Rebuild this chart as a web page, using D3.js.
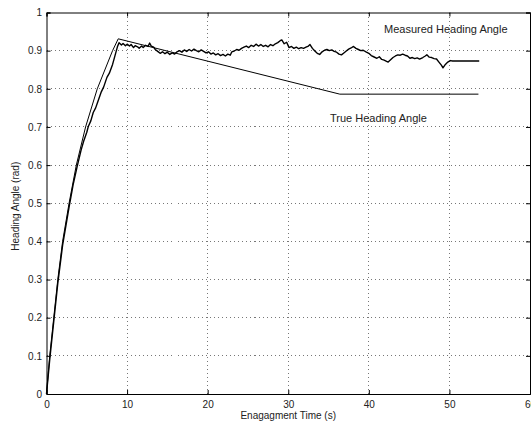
<!DOCTYPE html>
<html>
<head>
<meta charset="utf-8">
<script src="https://cdn.jsdelivr.net/npm/d3@7"></script>
<style>
  body { margin: 0; background: #fff; }
  svg { display: block; font-family: "Liberation Sans", Arial, sans-serif; }
</style>
</head>
<body>
<div id="viz"></div>
<script>
// tick labels
const xTicks = [0, 10, 20, 30, 40, 50, 60];
const yTicks = [0, 0.1, 0.2, 0.3, 0.4, 0.5, 0.6, 0.7, 0.8, 0.9, 1];

// true heading angle (time s, rad)
const trueHeading = [
    [0, 0], [0.4, 0.1], [0.9, 0.2], [1.4, 0.3], [2.0, 0.4], [2.8, 0.5],
    [3.7, 0.6], [4.85, 0.7], [6.3, 0.8], [8.2, 0.9], [8.9, 0.931],
    [36.4, 0.786], [53.6, 0.786]
];

// measured heading angle (time s, rad)
const measuredHeading = [
    [0, 0], [0.4, 0.09], [0.9, 0.19], [1.4, 0.29], [2.0, 0.39], [2.8, 0.49],
    [3.3, 0.548], [3.8, 0.596], [4.3, 0.64], [4.6, 0.662], [5.0, 0.686], [5.2, 0.702],
    [5.5, 0.716], [5.8, 0.738], [6.1, 0.75], [6.4, 0.768], [6.8, 0.792], [7.1, 0.805],
    [7.5, 0.83], [7.8, 0.841], [8.2, 0.864], [8.5, 0.887], [8.8, 0.91], [9.0, 0.921],
    [9.3, 0.915], [9.5, 0.919], [9.8, 0.913], [10.0, 0.917], [10.3, 0.912], [10.5, 0.916],
    [10.8, 0.908], [11.0, 0.913], [11.3, 0.910], [11.5, 0.906], [11.8, 0.912], [12.0, 0.908],
    [12.3, 0.914], [12.6, 0.911], [12.8, 0.920], [13.0, 0.912], [13.3, 0.909], [13.5, 0.903],
    [13.8, 0.898], [14.1, 0.893], [14.4, 0.897], [14.7, 0.892], [15.0, 0.896], [15.3, 0.890],
    [15.6, 0.894], [15.9, 0.891], [16.2, 0.897], [16.5, 0.900], [16.8, 0.896], [17.1, 0.902],
    [17.4, 0.898], [17.7, 0.903], [18.0, 0.899], [18.3, 0.904], [18.6, 0.900], [18.9, 0.897],
    [19.2, 0.902], [19.5, 0.898], [19.8, 0.894], [20.1, 0.897], [20.4, 0.891], [20.7, 0.894],
    [21.0, 0.889], [21.3, 0.892], [21.6, 0.887], [21.9, 0.890], [22.2, 0.886], [22.5, 0.891],
    [22.8, 0.888], [23.0, 0.897], [23.3, 0.899], [23.6, 0.903], [23.9, 0.901], [24.2, 0.906],
    [24.5, 0.909], [24.8, 0.912], [25.1, 0.908], [25.4, 0.914], [25.7, 0.911], [26.0, 0.917],
    [26.3, 0.912], [26.6, 0.916], [26.9, 0.911], [27.2, 0.914], [27.5, 0.910], [27.8, 0.916],
    [28.1, 0.913], [28.4, 0.918], [28.7, 0.921], [29.0, 0.926], [29.2, 0.928], [29.5, 0.918],
    [29.8, 0.922], [30.1, 0.908], [30.4, 0.911], [30.7, 0.906], [31.0, 0.909], [31.3, 0.905],
    [31.6, 0.908], [31.9, 0.906], [32.2, 0.909], [32.5, 0.912], [32.7, 0.916], [33.0, 0.906],
    [33.3, 0.899], [33.6, 0.893], [33.9, 0.890], [34.2, 0.897], [34.5, 0.901], [34.8, 0.903],
    [35.1, 0.900], [35.4, 0.902], [35.7, 0.898], [36.0, 0.896], [36.3, 0.891], [36.6, 0.889],
    [36.9, 0.894], [37.2, 0.899], [37.5, 0.904], [37.8, 0.907], [38.1, 0.911], [38.4, 0.906],
    [38.7, 0.903], [39.0, 0.900], [39.3, 0.901], [39.7, 0.896], [40.0, 0.893], [40.3, 0.887],
    [40.6, 0.884], [41.0, 0.880], [41.3, 0.884], [41.6, 0.877], [41.9, 0.875], [42.2, 0.872],
    [42.4, 0.870], [42.7, 0.876], [43.0, 0.882], [43.3, 0.886], [43.6, 0.889], [43.9, 0.888],
    [44.2, 0.891], [44.5, 0.888], [44.8, 0.886], [45.1, 0.880], [45.4, 0.882], [45.7, 0.879],
    [46.0, 0.881], [46.3, 0.878], [46.7, 0.882], [47.0, 0.886], [47.2, 0.889], [47.5, 0.883],
    [47.8, 0.882], [48.1, 0.879], [48.4, 0.878], [48.7, 0.870], [49.0, 0.862], [49.2, 0.855],
    [49.5, 0.864], [49.8, 0.870], [50.1, 0.874], [50.4, 0.873], [53.7, 0.873]
];

const width = 531;
const height = 426;
const margin = { top: 12.5, right: 1, bottom: 32, left: 46.5 };

const svg = d3.select("#viz").append("svg")
    .attr("width", width)
    .attr("height", height);

const x = d3.scaleLinear().domain([0, 60]).range([margin.left, width - margin.right]);
const y = d3.scaleLinear().domain([0, 1]).range([height - margin.bottom, margin.top]);

const fmt = d3.format("~g");

// dotted grid, interior ticks only
const grid = svg.append("g")
    .attr("stroke", "#777")
    .attr("stroke-width", 1)
    .attr("stroke-dasharray", "1,3")
    .attr("shape-rendering", "crispEdges");

grid.selectAll(".gx")
    .data(xTicks.slice(1, -1))
    .enter().append("line")
    .attr("x1", d => x(d)).attr("x2", d => x(d))
    .attr("y1", y(1)).attr("y2", y(0));

grid.selectAll(".gy")
    .data(yTicks.slice(1, -1))
    .enter().append("line")
    .attr("x1", x(0)).attr("x2", x(60))
    .attr("y1", d => y(d)).attr("y2", d => y(d));

// axes box, ticks point inward
const axBottom = svg.append("g")
    .attr("transform", `translate(0,${y(0)})`)
    .call(d3.axisBottom(x).tickValues(xTicks).tickFormat(fmt).tickSize(-4).tickPadding(7));
const axTop = svg.append("g")
    .attr("transform", `translate(0,${y(1)})`)
    .call(d3.axisTop(x).tickValues(xTicks).tickFormat("").tickSize(-4));
const axLeft = svg.append("g")
    .attr("transform", `translate(${x(0)},0)`)
    .call(d3.axisLeft(y).tickValues(yTicks).tickFormat(fmt).tickSize(-4).tickPadding(4.5));
const axRight = svg.append("g")
    .attr("transform", `translate(${x(60)},0)`)
    .call(d3.axisRight(y).tickValues(yTicks).tickFormat("").tickSize(-4));

[axBottom, axTop, axLeft, axRight].forEach(g => {
    g.selectAll(".domain").attr("stroke", "#000").attr("stroke-width", 1);
    g.selectAll(".tick line").attr("stroke", "#000");
    g.selectAll("text")
        .attr("font-family", "Liberation Sans, Arial, sans-serif")
        .attr("font-size", "10px")
        .attr("fill", "#222");
});

const line = d3.line()
    .x(d => x(d[0]))
    .y(d => y(d[1]));

svg.append("path")
    .datum(trueHeading)
    .attr("fill", "none")
    .attr("stroke", "#000")
    .attr("stroke-width", 1)
    .attr("d", line);

svg.append("path")
    .datum(measuredHeading)
    .attr("fill", "none")
    .attr("stroke", "#000")
    .attr("stroke-width", 1.4)
    .attr("stroke-linejoin", "round")
    .attr("d", line);

// labels
svg.append("text")
    .attr("x", 384)
    .attr("y", 32.5)
    .attr("font-size", "11px")
    .attr("fill", "#222")
    .text("Measured Heading Angle");

svg.append("text")
    .attr("x", 330)
    .attr("y", 121.5)
    .attr("font-size", "11px")
    .attr("fill", "#222")
    .text("True Heading Angle");

svg.append("text")
    .attr("x", (x(0) + x(60)) / 2)
    .attr("y", 419)
    .attr("text-anchor", "middle")
    .attr("font-size", "10px")
    .attr("fill", "#222")
    .text("Enagagment Time (s)");

svg.append("text")
    .attr("transform", `translate(18.5,${(y(0) + y(1)) / 2 + 3}) rotate(-90)`)
    .attr("text-anchor", "middle")
    .attr("font-size", "10px")
    .attr("fill", "#222")
    .text("Heading Angle (rad)");
</script>
</body>
</html>
